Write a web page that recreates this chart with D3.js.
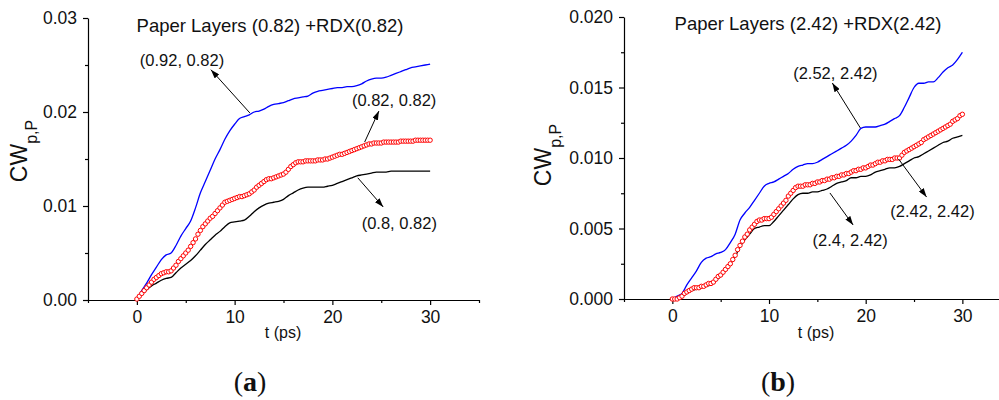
<!DOCTYPE html>
<html><head><meta charset="utf-8">
<script src="https://cdn.jsdelivr.net/npm/d3@7"></script>
<style>
body{margin:0;background:#fff}
svg{display:block}
text{fill:#111}
</style>
</head><body>
<svg id="c" width="999" height="400" font-family="Arial, 'Liberation Sans', sans-serif"></svg>
<script>
// ---------------- data ----------------
const tCoarse = d3.range(0, 30.001, 0.5);   // time (ps), 61 samples
const tFine = d3.range(0, 30.001, 0.25);    // time (ps), 121 samples (marker series)

// Panel (a): Paper Layers (0.82) + RDX(0.82)
const aBlue = [
 0.0001,0.0010,0.0018,0.0027,0.0035,0.0043,0.0048,0.0050,0.0058,0.0068,
 0.0076,0.0084,0.0098,0.0114,0.0126,0.0138,0.0150,0.0160,0.0171,0.0180,
 0.0187,0.0193,0.0195,0.0197,0.0200,0.0201,0.0203,0.0206,0.0208,0.0209,
 0.0210,0.0212,0.0214,0.0215,0.0216,0.0217,0.0220,0.0222,0.0223,0.0224,
 0.0225,0.0226,0.0226,0.0227,0.0227,0.0228,0.0230,0.0233,0.0235,0.0236,
 0.0236,0.0237,0.0239,0.0241,0.0243,0.0245,0.0247,0.0248,0.0249,0.0250,
 0.0251];
const aBlack = [
 0.0001,0.0006,0.0011,0.0015,0.0018,0.0021,0.0023,0.0024,0.0029,0.0034,
 0.0038,0.0042,0.0047,0.0053,0.0059,0.0064,0.0069,0.0073,0.0078,0.0082,
 0.0083,0.0084,0.0085,0.0089,0.0094,0.0098,0.0101,0.0103,0.0104,0.0105,
 0.0107,0.0111,0.0114,0.0117,0.0119,0.0120,0.0120,0.0120,0.0120,0.0121,
 0.0122,0.0124,0.0126,0.0128,0.0130,0.0132,0.0133,0.0134,0.0135,0.0136,
 0.0136,0.0136,0.0137,0.0137,0.0137,0.0137,0.0137,0.0137,0.0137,0.0137,
 0.0137];
const aRed = [
 0.0001,0.0004,0.0007,0.0010,0.0013,0.0016,0.0019,0.0022,
 0.0024,0.0026,0.0028,0.0029,0.0030,0.0030,0.0031,0.0034,
 0.0037,0.0041,0.0044,0.0047,0.0050,0.0053,0.0057,0.0061,
 0.0065,0.0070,0.0074,0.0078,0.0081,0.0084,0.0087,0.0089,
 0.0092,0.0095,0.0098,0.0101,0.0104,0.0105,0.0106,0.0107,
 0.0108,0.0109,0.0110,0.0110,0.0111,0.0112,0.0113,0.0115,
 0.0117,0.0120,0.0122,0.0124,0.0126,0.0128,0.0129,0.0129,
 0.0130,0.0131,0.0132,0.0133,0.0134,0.0136,0.0139,0.0142,
 0.0144,0.0146,0.0147,0.0147,0.0147,0.0148,0.0148,0.0148,
 0.0148,0.0148,0.0149,0.0149,0.0149,0.0150,0.0150,0.0151,
 0.0152,0.0153,0.0154,0.0155,0.0155,0.0156,0.0157,0.0158,
 0.0159,0.0160,0.0161,0.0162,0.0163,0.0164,0.0165,0.0166,
 0.0166,0.0167,0.0167,0.0167,0.0167,0.0168,0.0168,0.0168,
 0.0168,0.0168,0.0168,0.0168,0.0169,0.0169,0.0169,0.0169,
 0.0169,0.0169,0.0170,0.0170,0.0170,0.0170,0.0170,0.0170,
 0.0170];

// Panel (b): Paper Layers (2.42) + RDX(2.42)
const bBlue = [
 0.0000,0.0002,0.0004,0.0010,0.0015,0.0020,0.0026,0.0029,0.0030,0.0032,
 0.0033,0.0035,0.0040,0.0046,0.0056,0.0061,0.0065,0.0070,0.0075,0.0080,
 0.0082,0.0083,0.0085,0.0087,0.0089,0.0092,0.0094,0.0095,0.0096,0.0096,
 0.0097,0.0099,0.0101,0.0103,0.0105,0.0107,0.0109,0.0112,0.0116,0.0121,
 0.0122,0.0122,0.0122,0.0123,0.0124,0.0126,0.0128,0.0130,0.0136,0.0143,
 0.0150,0.0153,0.0153,0.0154,0.0154,0.0157,0.0161,0.0164,0.0166,0.0170,
 0.0175];
const bBlack = [
 0.0000,0.0001,0.0002,0.0004,0.0006,0.0007,0.0008,0.0009,0.0010,0.0013,
 0.0016,0.0020,0.0025,0.0030,0.0037,0.0042,0.0046,0.0050,0.0051,0.0052,
 0.0052,0.0055,0.0059,0.0063,0.0067,0.0071,0.0074,0.0075,0.0075,0.0076,
 0.0076,0.0077,0.0078,0.0080,0.0082,0.0083,0.0084,0.0086,0.0086,0.0087,
 0.0087,0.0088,0.0090,0.0091,0.0092,0.0093,0.0093,0.0094,0.0096,0.0098,
 0.0100,0.0101,0.0103,0.0105,0.0107,0.0109,0.0111,0.0112,0.0114,0.0115,
 0.0116];
const bRed = [
 0.0000,0.0000,0.0000,0.0001,0.0002,0.0004,0.0005,0.0006,
 0.0007,0.0008,0.0008,0.0008,0.0009,0.0009,0.0010,0.0011,
 0.0011,0.0012,0.0014,0.0016,0.0017,0.0019,0.0021,0.0023,
 0.0025,0.0028,0.0031,0.0035,0.0038,0.0041,0.0044,0.0046,
 0.0049,0.0051,0.0053,0.0055,0.0056,0.0056,0.0057,0.0057,
 0.0057,0.0058,0.0060,0.0062,0.0064,0.0066,0.0068,0.0070,
 0.0073,0.0075,0.0077,0.0079,0.0080,0.0080,0.0080,0.0081,
 0.0081,0.0081,0.0082,0.0082,0.0083,0.0083,0.0084,0.0084,
 0.0085,0.0085,0.0086,0.0086,0.0087,0.0087,0.0088,0.0088,
 0.0089,0.0089,0.0090,0.0091,0.0091,0.0092,0.0092,0.0093,
 0.0093,0.0094,0.0095,0.0095,0.0096,0.0097,0.0097,0.0098,
 0.0098,0.0099,0.0099,0.0099,0.0100,0.0100,0.0100,0.0102,
 0.0104,0.0105,0.0106,0.0107,0.0108,0.0109,0.0110,0.0111,
 0.0113,0.0114,0.0115,0.0116,0.0117,0.0118,0.0119,0.0120,
 0.0121,0.0122,0.0123,0.0124,0.0126,0.0127,0.0128,0.0130,
 0.0131];

// tick values
const xTicks = [0, 10, 20, 30];
const xMinor = [-5, 5, 15, 25, 35];
const aYTicks = [0, 0.01, 0.02, 0.03];
const aYMinor = [0.005, 0.015, 0.025];
const bYTicks = [0, 0.005, 0.010, 0.015, 0.020];
const bYMinor = [0.0025, 0.0075, 0.0125, 0.0175];

// texts
const aTitle = "Paper Layers (0.82) +RDX(0.82)";
const bTitle = "Paper Layers (2.42) +RDX(2.42)";
const xLabel = "t (ps)";

// annotations: label, label position [t, v], arrow from [t, v] to [t, v]
const aNotes = [
  {label: "(0.92, 0.82)", at: [0.3, 0.0249], from: [11.56, 0.0199], to: [7.57, 0.0245]},
  {label: "(0.82, 0.82)", at: [22.0, 0.0206], from: [23.3, 0.0168], to: [24.76, 0.0201]},
  {label: "(0.8, 0.82)",  at: [23.0, 0.00755], from: [22.6, 0.0130], to: [25.2, 0.0099]}
];
const bNotes = [
  {label: "(2.52, 2.42)", at: [12.5, 0.0156], from: [19.45, 0.01213], to: [16.55, 0.01532]},
  {label: "(2.42, 2.42)", at: [22.55, 0.00582], from: [23.4, 0.00993], to: [26.3, 0.00723]},
  {label: "(2.4, 2.42)",  at: [14.5, 0.00376], from: [16.3, 0.00752], to: [18.7, 0.00525]}
];

// ---------------- drawing ----------------
const svg = d3.select("#c");
svg.append("defs").append("marker")
  .attr("id", "arr").attr("viewBox", "0 0 9 6")
  .attr("refX", 9).attr("refY", 3)
  .attr("markerWidth", 9).attr("markerHeight", 6)
  .attr("markerUnits", "userSpaceOnUse")
  .attr("orient", "auto")
  .append("path").attr("d", "M0,0L9,3L0,6Z").attr("fill", "#000");

const panels = [
  {xr: [88, 479], yr: [300, 18], yd: [0, 0.03], fmt: d3.format(".2f"),
   yT: aYTicks, yM: aYMinor, blue: aBlue, black: aBlack, red: aRed,
   title: aTitle, titleX: 270, titleY: 31.5, yLabX: 27, yLabY: 151,
   xLabX: 283, letter: "a", letterX: 250, notes: aNotes},
  {xr: [624, 1010.7], yr: [299, 17], yd: [0, 0.02], fmt: d3.format(".3f"),
   yT: bYTicks, yM: bYMinor, blue: bBlue, black: bBlack, red: bRed,
   title: bTitle, titleX: 808, titleY: 30, yLabX: 551, yLabY: 155,
   xLabX: 816, letter: "b", letterX: 778, notes: bNotes}
];

panels.forEach(p => {
  const x = d3.scaleLinear().domain([-5, 35]).range(p.xr);
  const y = d3.scaleLinear().domain(p.yd).range(p.yr);
  const g = svg.append("g");

  // axes
  g.append("g").attr("transform", `translate(${p.xr[0]},0)`)
    .call(d3.axisLeft(y).tickValues(p.yT).tickFormat(p.fmt).tickSize(5).tickSizeOuter(0).tickPadding(6));
  const yAxMin = g.append("g").attr("transform", `translate(${p.xr[0]},0)`)
    .call(d3.axisLeft(y).tickValues(p.yM).tickFormat("").tickSize(3).tickSizeOuter(0));
  yAxMin.select(".domain").remove();
  g.append("g").attr("transform", `translate(0,${p.yr[0]})`)
    .call(d3.axisBottom(x).tickValues(xTicks).tickFormat(d3.format("d")).tickSize(5).tickSizeOuter(0).tickPadding(6));
  const xAxMin = g.append("g").attr("transform", `translate(0,${p.yr[0]})`)
    .call(d3.axisBottom(x).tickValues(xMinor).tickFormat("").tickSize(3).tickSizeOuter(0));
  xAxMin.select(".domain").remove();
  g.selectAll(".domain, .tick line").attr("stroke", "#000").attr("stroke-width", 1.2);
  g.selectAll(".tick text").attr("font-size", 17.5)
    .style("font-family", "Arial, 'Liberation Sans', sans-serif").style("fill", "#111");

  // series
  const line = d3.line().x((d, i) => x(tCoarse[i])).y(d => y(d)).curve(d3.curveMonotoneX);
  g.append("path").datum(p.black).attr("d", line)
    .attr("fill", "none").attr("stroke", "#000").attr("stroke-width", 1.3);
  g.append("path").datum(p.blue).attr("d", line)
    .attr("fill", "none").attr("stroke", "#0000ff").attr("stroke-width", 1.3);
  g.append("g").selectAll("circle").data(p.red).join("circle")
    .attr("cx", (d, i) => x(tFine[i])).attr("cy", d => y(d))
    .attr("r", 2.2).attr("fill", "#fff").attr("stroke", "#ff0000").attr("stroke-width", 1);

  // annotations
  p.notes.forEach(n => {
    g.append("line")
      .attr("x1", x(n.from[0])).attr("y1", y(n.from[1]))
      .attr("x2", x(n.to[0])).attr("y2", y(n.to[1]))
      .attr("stroke", "#000").attr("stroke-width", 1)
      .attr("marker-end", "url(#arr)");
    g.append("text").attr("x", x(n.at[0])).attr("y", y(n.at[1]))
      .attr("font-size", 16.5).text(n.label);
  });

  // title
  g.append("text").attr("x", p.titleX).attr("y", p.titleY)
    .attr("text-anchor", "middle").attr("font-size", 18.5).text(p.title);

  // y label
  const yl = g.append("text")
    .attr("transform", `translate(${p.yLabX},${p.yLabY}) rotate(-90)`)
    .attr("text-anchor", "middle");
  yl.append("tspan").attr("font-size", 23).text("CW");
  yl.append("tspan").attr("font-size", 16).attr("dy", 10).text("p,P");

  // x label
  g.append("text").attr("x", p.xLabX).attr("y", 338)
    .attr("text-anchor", "middle").attr("font-size", 16).text(xLabel);

  // panel letter
  const lt = g.append("text").attr("x", p.letterX).attr("y", 391)
    .attr("text-anchor", "middle")
    .style("font-family", "'Liberation Serif', 'Times New Roman', serif")
    .attr("font-size", 28);
  lt.append("tspan").text("(");
  lt.append("tspan").attr("font-weight", "bold").text(p.letter);
  lt.append("tspan").text(")");
});
</script>
</body></html>
